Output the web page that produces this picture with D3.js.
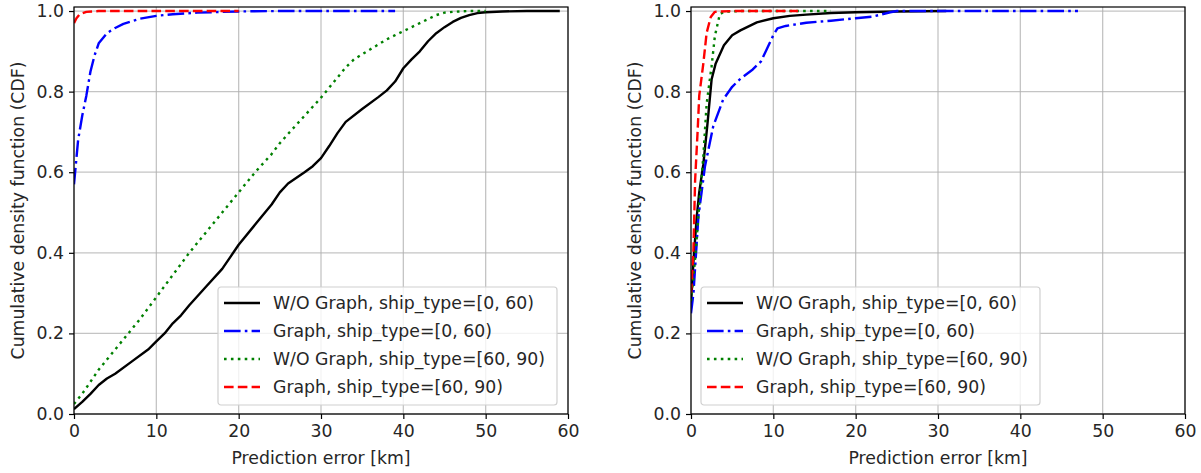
<!DOCTYPE html>
<html>
<head>
<meta charset="utf-8">
<script src="https://cdn.jsdelivr.net/npm/d3@7"></script>
<style>
  body { margin: 0; background: #fff; }
  svg text { font-family: "DejaVu Sans", sans-serif; fill: #262626; }
</style>
</head>
<body>
<div id="container"></div>
<script>
// series names (legend order)
let seriesNames = [
  "W/O Graph, ship_type=[0, 60)",
  "Graph, ship_type=[0, 60)",
  "W/O Graph, ship_type=[60, 90)",
  "Graph, ship_type=[60, 90)"
];

let xTicks = [0, 10, 20, 30, 40, 50, 60];
let yTicks = [0.0, 0.2, 0.4, 0.6, 0.8, 1.0];

// left panel
let leftBlackX = [0, 1, 2, 3, 4, 5, 7, 9, 10, 11, 12, 13, 14, 16, 18, 19, 20, 22, 24, 25, 26, 28, 29, 30, 31, 32, 33, 35, 37, 38, 39, 40, 41, 42, 43, 44, 45, 46, 47, 48, 49, 50, 52, 55, 59];
let leftBlackY = [0.012, 0.03, 0.05, 0.072, 0.088, 0.1, 0.13, 0.16, 0.18, 0.2, 0.225, 0.245, 0.27, 0.315, 0.36, 0.39, 0.42, 0.47, 0.52, 0.55, 0.572, 0.6, 0.615, 0.635, 0.665, 0.697, 0.725, 0.757, 0.787, 0.803, 0.825, 0.858, 0.88, 0.9, 0.925, 0.945, 0.96, 0.973, 0.983, 0.99, 0.995, 0.997, 0.999, 1.0, 1.0];

let leftBlueX = [0, 0.5, 1, 1.5, 2, 2.5, 3, 4, 5, 6, 8, 10, 12, 15, 20, 25, 30, 39];
let leftBlueY = [0.57, 0.68, 0.74, 0.79, 0.85, 0.89, 0.92, 0.945, 0.958, 0.968, 0.981, 0.988, 0.992, 0.996, 0.999, 1.0, 1.0, 1.0];

let leftGreenX = [0, 1, 2, 3, 4, 5, 6, 7, 8, 10, 12, 14, 16, 18, 20, 22, 24, 25, 26, 28, 30, 32, 33, 34, 36, 38, 40, 42, 44, 45, 46, 48, 50];
let leftGreenY = [0.025, 0.05, 0.08, 0.11, 0.135, 0.16, 0.185, 0.21, 0.235, 0.29, 0.345, 0.4, 0.45, 0.5, 0.55, 0.6, 0.645, 0.672, 0.695, 0.74, 0.785, 0.835, 0.86, 0.88, 0.905, 0.93, 0.95, 0.97, 0.99, 0.996, 0.998, 1.0, 1.0];

let leftRedX = [0, 0.3, 0.7, 1.5, 3, 20];
let leftRedY = [0.97, 0.982, 0.992, 0.998, 1.0, 1.0];

// right panel
let rightBlackX = [0, 0.3, 0.7, 1, 1.5, 2, 2.5, 3, 4, 5, 6, 8, 10, 12, 14, 17, 20, 25, 31];
let rightBlackY = [0.27, 0.38, 0.49, 0.55, 0.62, 0.72, 0.83, 0.87, 0.915, 0.94, 0.952, 0.972, 0.982, 0.988, 0.991, 0.995, 0.997, 0.999, 1.0];

let rightBlueX = [0, 0.3, 0.9, 1.7, 2.7, 3.9, 5, 6, 7.5, 8.5, 9.2, 10, 10.5, 11.5, 14, 17, 20, 22, 24.2, 25, 30, 40, 47];
let rightBlueY = [0.25, 0.3, 0.49, 0.615, 0.714, 0.78, 0.812, 0.832, 0.855, 0.875, 0.905, 0.94, 0.957, 0.963, 0.971, 0.976, 0.982, 0.986, 0.997, 1.0, 1.0, 1.0, 1.0];

let rightGreenX = [0, 0.3, 0.6, 1, 1.3, 1.5, 1.9, 2.5, 2.9, 3.5, 4, 6, 10, 17];
let rightGreenY = [0.28, 0.34, 0.41, 0.52, 0.59, 0.64, 0.77, 0.863, 0.938, 0.992, 0.998, 1.0, 1.0, 1.0];

let rightRedX = [0, 0.1, 0.3, 0.5, 0.8, 1.0, 1.5, 1.9, 2.4, 2.9, 5, 13];
let rightRedY = [0.3, 0.33, 0.41, 0.58, 0.7, 0.79, 0.87, 0.946, 0.985, 0.998, 1.0, 1.0];

let styles = [
  {color: "#000000", dash: null},
  {color: "#0000ff", dash: "16.6,4.2,2.6,4.2"},
  {color: "#008000", dash: "2.6,4.3"},
  {color: "#ff0000", dash: "9.6,4.2"}
];

let panels = [
  {left: 74, legendX: 218, series: [[leftBlackX, leftBlackY], [leftBlueX, leftBlueY], [leftGreenX, leftGreenY], [leftRedX, leftRedY]]},
  {left: 691, legendX: 701, series: [[rightBlackX, rightBlackY], [rightBlueX, rightBlueY], [rightGreenX, rightGreenY], [rightRedX, rightRedY]]}
];

let svgWidth = 1201, svgHeight = 473;
let plotW = 494, plotTop = 7, plotBottom = 414;
let fontSize = 17.3;
let lineW = 2.4;

let svg = d3.select("#container").append("svg")
  .attr("width", svgWidth)
  .attr("height", svgHeight);

panels.forEach(function(p, pi) {
  let x = d3.scaleLinear().domain([0, 60]).range([p.left, p.left + plotW]);
  let y = d3.scaleLinear().domain([0, 1.01]).range([plotBottom, plotTop]);

  let g = svg.append("g");

  // grid
  g.selectAll(".vgrid").data(xTicks).enter().append("line")
    .attr("x1", d => x(d)).attr("x2", d => x(d))
    .attr("y1", plotTop).attr("y2", plotBottom)
    .attr("stroke", "#b0b0b0").attr("stroke-opacity", 0.75).attr("stroke-width", 1.3);
  g.selectAll(".hgrid").data(yTicks).enter().append("line")
    .attr("x1", p.left).attr("x2", p.left + plotW)
    .attr("y1", d => y(d)).attr("y2", d => y(d))
    .attr("stroke", "#b0b0b0").attr("stroke-opacity", 0.75).attr("stroke-width", 1.3);

  // lines
  let clipId = "clip" + pi;
  svg.append("clipPath").attr("id", clipId).append("rect")
    .attr("x", p.left).attr("y", plotTop).attr("width", plotW).attr("height", plotBottom - plotTop);

  let line = d3.line().x(d => x(d[0])).y(d => y(d[1]));
  p.series.forEach(function(s, si) {
    let pts = s[0].map((v, k) => [v, s[1][k]]);
    g.append("path")
      .datum(pts)
      .attr("clip-path", "url(#" + clipId + ")")
      .attr("d", line)
      .attr("fill", "none")
      .attr("stroke", styles[si].color)
      .attr("stroke-width", lineW)
      .attr("stroke-linejoin", "round")
      .attr("stroke-dasharray", styles[si].dash);
  });

  // axes
  let xAxis = d3.axisBottom(x).tickValues(xTicks).tickFormat(d3.format("d")).tickSize(5).tickPadding(6);
  let yAxis = d3.axisLeft(y).tickValues(yTicks).tickFormat(d3.format(".1f")).tickSize(5).tickPadding(5);
  let gx = g.append("g").attr("transform", "translate(0," + plotBottom + ")").call(xAxis);
  let gy = g.append("g").attr("transform", "translate(" + p.left + ",0)").call(yAxis);
  [gx, gy].forEach(a => {
    a.select(".domain").remove();
    a.selectAll("line").attr("stroke", "#000").attr("stroke-width", 1.2);
    a.selectAll("text").style("font-size", fontSize + "px").attr("fill", "#262626");
  });

  // frame
  g.append("rect")
    .attr("x", p.left).attr("y", plotTop).attr("width", plotW).attr("height", plotBottom - plotTop)
    .attr("fill", "none").attr("stroke", "#000").attr("stroke-width", 1.2);

  // axis labels
  g.append("text")
    .attr("x", p.left + plotW / 2).attr("y", 464)
    .attr("text-anchor", "middle")
    .style("font-size", fontSize + "px")
    .text("Prediction error [km]");
  g.append("text")
    .attr("transform", "translate(" + (p.left - 50) + "," + ((plotTop + plotBottom) / 2) + ") rotate(-90)")
    .attr("text-anchor", "middle")
    .style("font-size", fontSize + "px")
    .text("Cumulative density function (CDF)");

  // legend
  let lg = g.append("g").attr("transform", "translate(" + p.legendX + ",287)");
  lg.append("rect")
    .attr("x", 0).attr("y", 0).attr("width", 339).attr("height", 118)
    .attr("rx", 3)
    .attr("fill", "#fff").attr("fill-opacity", 0.8)
    .attr("stroke", "#d0d0d0").attr("stroke-width", 1.2);
  seriesNames.forEach(function(name, si) {
    let cy = 16 + si * 28;
    lg.append("line")
      .attr("x1", 6).attr("x2", 42).attr("y1", cy).attr("y2", cy)
      .attr("stroke", styles[si].color).attr("stroke-width", lineW)
      .attr("stroke-dasharray", styles[si].dash);
    lg.append("text")
      .attr("x", 55).attr("y", cy).attr("dy", "0.35em")
      .style("font-size", fontSize + "px")
      .text(name);
  });
});
</script>
</body>
</html>
